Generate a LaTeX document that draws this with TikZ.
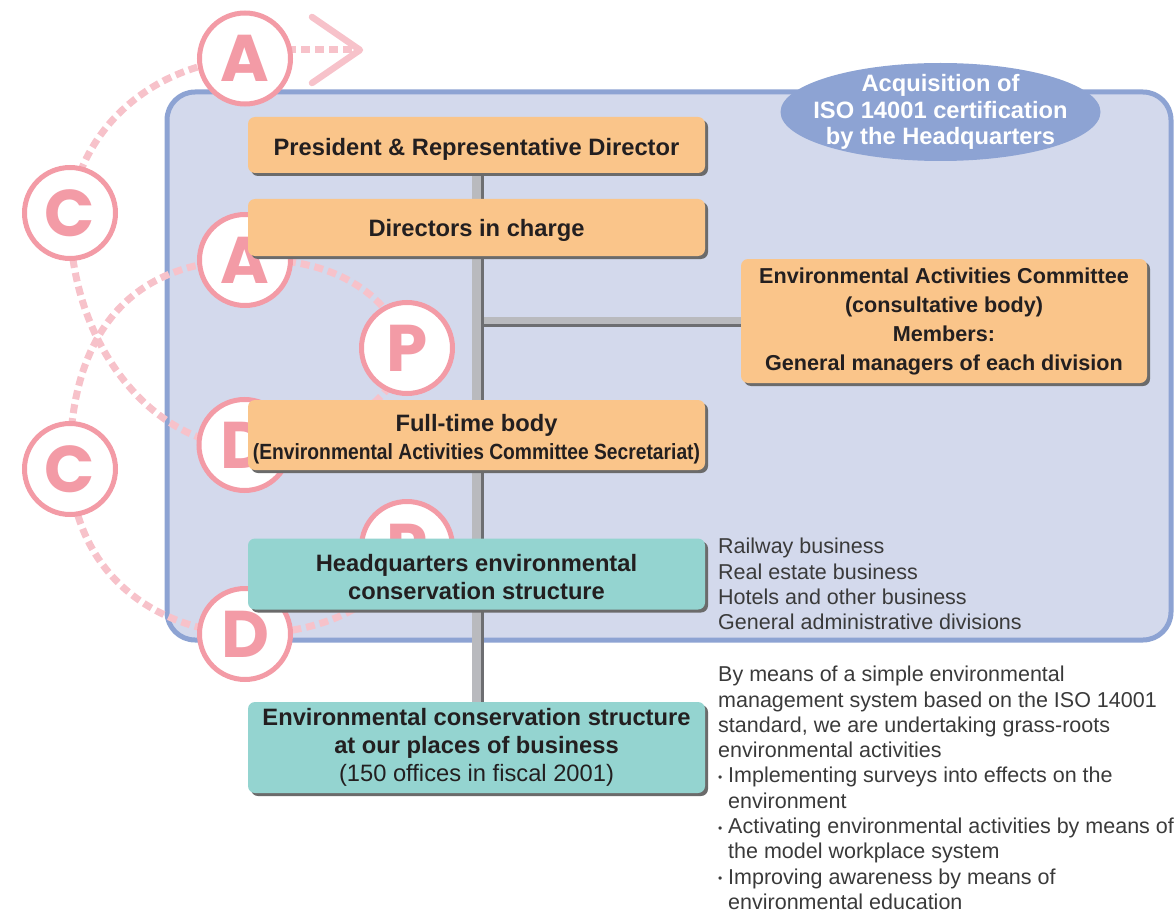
\documentclass[tikz,border=0pt]{standalone}
\usepackage{fontspec}
\setmainfont{Liberation Sans}
\newfontfamily\pdcafont{Poppins}
\usetikzlibrary{shapes.geometric,shadows}
\definecolor{framefill}{HTML}{D3D9EC}
\definecolor{frameline}{HTML}{8DA3D3}
\definecolor{orangebox}{HTML}{FAC58A}
\definecolor{tealfill}{HTML}{94D4D0}
\definecolor{shadowgray}{HTML}{6B6B6B}
\definecolor{pinkline}{HTML}{F39BA6}
\definecolor{pinkdash}{HTML}{F7C2CA}
\definecolor{linelight}{HTML}{B9BABE}
\definecolor{linedark}{HTML}{6D6E71}
\definecolor{textdark}{HTML}{231F20}
\definecolor{textgray}{HTML}{3A3A3A}
\newcommand\mybig{\fontsize{23.7}{28}\selectfont}
\newcommand\mymid{\fontsize{21.6}{29}\selectfont}
\newcommand\myreg{\fontsize{21.5}{25.3}\selectfont}
\newcommand\mybul{\makebox[10pt][l]{\raisebox{1.5pt}{\fontsize{12}{12}\selectfont •}}}
\pgfdeclarelayer{back}
\pgfdeclarelayer{mid}
\pgfsetlayers{back,mid,main}
\begin{document}
\begin{tikzpicture}[x=1pt,y=-1pt,
  boxbase/.style={draw=none, rounded corners=7pt, inner sep=0pt, align=center,
    text=textdark, font=\mybig\bfseries,
    drop shadow={shadow xshift=3pt, shadow yshift=-3pt, fill=shadowgray, opacity=1}},
  orgbox/.style={boxbase, fill=orangebox},
  tealbox/.style={boxbase, fill=tealfill},
  pdca/.style={circle, draw=pinkline, line width=5pt, fill=white, minimum size=91pt,
    inner sep=0pt, text=pinkline, font=\pdcafont\bfseries\fontsize{66}{66}\selectfont},
  cyc/.style={draw=pinkdash, line width=7pt, dash pattern=on 9pt off 5pt},
  grayl/.style={draw=linelight, line width=9pt},
  grayd/.style={draw=linedark, line width=3pt},
  side/.style={anchor=north west, inner sep=0pt, align=left, text=textgray, font=\myreg}
]
\useasboundingbox (0,0) rectangle (1175,912);

% frame
\begin{pgfonlayer}{back}
\draw[fill=framefill, draw=frameline, line width=5pt, rounded corners=28pt]
  (167,92) rectangle (1171,640);
\end{pgfonlayer}

% PDCA circles
\node[pdca] (A1) at (245,58.5) {A};
\node[pdca] (C1) at (70,213) {C};
\node[pdca] (A2) at (245,260) {A};
\node[pdca] (P1) at (407,348) {P};
\node[pdca] (D1) at (244.5,445) {D};
\node[pdca] (C2) at (70,469) {C};
\node[pdca] (P2) at (407,547) {P};
\node[pdca] (D2) at (245,634) {D};

% boxes
\node[orgbox, minimum width=457pt, minimum height=56pt, text height=21pt, text depth=0pt] (pres) at (476.5,145)
  {President \& Representative Director};
\node[orgbox, minimum width=457pt, minimum height=57pt, text height=18pt, text depth=0pt] (dirs) at (476.5,227.5)
  {Directors in charge};
\node[orgbox, minimum width=406pt, minimum height=124pt, font=\mymid\bfseries] (comm) at (944,321)
  {Environmental Activities Committee\\(consultative body)\\Members:\\General managers of each division};
\node[orgbox, minimum width=457pt, minimum height=70pt, text height=49pt, text depth=0pt] (full) at (476.5,435)
  {Full-time body\\\scalebox{0.875}[1]{\fontsize{22}{28}\selectfont(Environmental Activities Committee Secretariat)}};
\node[tealbox, minimum width=457pt, minimum height=71pt, text height=51pt, text depth=0pt] (hq) at (476.5,574)
  {Headquarters environmental\\conservation structure};
\node[tealbox, minimum width=457pt, minimum height=91pt, font=\mybig] (env) at (476.5,747.5)
  {\textbf{Environmental conservation structure}\\\textbf{at our places of business}\\(150 offices in fiscal 2001)};

% ellipse
\node[ellipse, fill=frameline, minimum width=320pt, minimum height=98pt, inner sep=0pt] (iso) at (940.5,112) {};
\node[inner sep=0pt, text=white, font=\fontsize{23.7}{26.5}\selectfont\bfseries, align=center] (isotext) at (iso.center)
  {Acquisition of\\ISO 14001 certification\\by the Headquarters};

% side texts
\node[side] (units) at (718,538)
  {Railway business\\Real estate business\\Hotels and other business\\General administrative divisions};
\node[side] (desc) at (718,666)
  {By means of a simple environmental\\
   management system based on the ISO 14001\\
   standard, we are undertaking grass-roots\\
   environmental activities\\
   \mybul Implementing surveys into effects on the\\
   \hspace*{10pt}environment\\
   \mybul Activating environmental activities by means of\\
   \hspace*{10pt}the model workplace system\\
   \mybul Improving awareness by means of\\
   \hspace*{10pt}environmental education};

\coordinate (junc) at (484,321);
\coordinate (tip) at (360,50);
\coordinate (dashend) at (352,50);

\begin{pgfonlayer}{mid}
% cycle arcs
\draw[cyc] (P2.center) .. controls (390,600) and (330,634) .. (D2.center);
\draw[cyc] (D2.center) .. controls (150,630) and (75,570) .. (C2.center);
\draw[cyc] (C2.center) .. controls (68,360) and (110,262) .. (A2.center);
\draw[cyc] (A2.center) .. controls (320,256) and (385,285) .. (P1.center);
\draw[cyc] (P1.center) .. controls (395,410) and (320,445) .. (D1.center);
\draw[cyc] (D1.center) .. controls (160,448) and (68,350) .. (C1.center);
\draw[cyc] (C1.center) .. controls (80,130) and (150,65) .. (A1.center);
\draw[cyc] ([yshift=8.5pt]A1.center) -- (dashend);
% org lines
\draw[grayl] ([xshift=-0.5pt]pres.south) -- ([xshift=-0.5pt]env.north);
\draw[grayd] ([xshift=6pt]pres.south) -- ([xshift=6pt]env.north);
\draw[draw=linelight, line width=7pt] ([yshift=0.5pt]comm.west) -- ([yshift=0.5pt]comm.west -| junc);
\draw[draw=linedark, line width=3pt] ([yshift=-4.5pt]comm.west) -- ([yshift=-4.5pt]comm.west -| junc);
\end{pgfonlayer}

% arrow head
\draw[pinkdash, line width=6.5pt, line cap=round, line join=round]
  (312,17) -- (tip) -- (312,83);
\end{tikzpicture}
\end{document}
